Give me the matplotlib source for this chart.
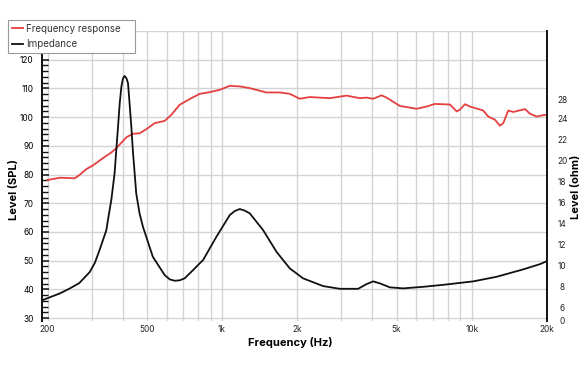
import matplotlib
matplotlib.use("Agg")
import matplotlib.pyplot as plt
from matplotlib.ticker import FixedLocator, NullFormatter, NullLocator

# ---- data ----
spl_freq = [200, 224, 257, 268, 286, 304, 333, 360, 377, 414, 439, 468, 497, 537, 589,
            626, 676, 742, 813, 892, 978, 1073, 1177, 1290, 1505, 1702, 1867, 2046, 2244,
            2700, 3150, 3560, 3788, 4026, 4352, 4557, 5150, 6010, 6590, 7115, 8172, 8692,
            8960, 9384, 9826, 11108, 11632, 12376, 12960, 13360, 13994, 14654, 16324,
            17098, 18186, 19330, 20000]
spl_db = [78.1, 78.9, 78.7, 79.8, 81.9, 83.2, 85.7, 87.7, 89.2, 93.0, 94.2, 94.4, 95.8,
          97.9, 98.7, 100.8, 104.3, 106.3, 108.1, 108.7, 109.5, 110.9, 110.7, 110.1,
          108.6, 108.6, 108.1, 106.4, 107.0, 106.6, 107.5, 106.6, 106.8, 106.4, 107.6,
          106.8, 103.9, 102.9, 103.7, 104.6, 104.4, 102.0, 102.6, 104.5, 103.7, 102.3,
          100.2, 99.1, 97.0, 97.9, 102.3, 101.8, 102.8, 101.2, 100.2, 100.7, 100.8]

imp_freq = [191, 224, 245, 268, 295, 309, 323, 344, 349, 360, 371, 383, 389, 395, 401,
            407, 414, 420, 426, 433, 439, 453, 467, 482, 528, 589, 617, 646, 676, 708,
            765, 813, 839, 949, 1073, 1124, 1177, 1232, 1290, 1459, 1651, 1867, 2110,
            2538, 2960, 3505, 3788, 4026, 4283, 4696, 5309, 6386, 7682, 10132, 12570,
            16070, 18750, 20000]
imp_ohm = [6.67, 7.31, 7.77, 8.30, 9.35, 10.21, 11.45, 13.37, 14.33, 16.24, 18.79, 23.25,
           25.49, 27.08, 27.88, 28.11, 27.88, 27.41, 25.49, 23.25, 21.02, 16.88, 14.97,
           13.68, 10.81, 9.06, 8.65, 8.52, 8.56, 8.75, 9.54, 10.18, 10.50, 12.73, 14.80,
           15.19, 15.38, 15.23, 14.97, 13.37, 11.29, 9.70, 8.75, 8.01, 7.75, 7.75, 8.20,
           8.46, 8.27, 7.89, 7.79, 7.94, 8.13, 8.46, 8.90, 9.61, 10.11, 10.40]

x_ticks = [200, 500, 1000, 2000, 5000, 10000, 20000]
x_labels = ["200", "500", "1k", "2k", "5k", "10k", "20k"]
y_ticks = [30, 40, 50, 60, 70, 80, 90, 100, 110, 120]
ohm_ticks = [4.7, 6, 8, 10, 12, 14, 16, 18, 20, 22, 24, 25.9]
ohm_labels = ["0", "6", "8", "10", "12", "14", "16", "18", "20", "22", "24", "28"]

RED = "#e5403f"
GRID = "#d4d4d4"
FONT = ["Inter", "DejaVu Sans"]
plt.rcParams["font.family"] = FONT

fig = plt.figure(figsize=(5.88, 3.72), dpi=100)
ax = fig.add_axes([42 / 588, 1 - 321 / 372, (547 - 42) / 588, (321 - 31) / 372])
ax2 = ax.twinx()

ax.set_xscale("log")
ax.set_xlim(190, 20000)
ax.set_ylim(29, 130)
ax2.set_ylim(4.67, 32.41)

# grid
minor_x = [f * m for f in (100, 1000, 10000) for m in range(1, 10)]
minor_x = [v for v in minor_x if 200 <= v <= 20000]
for v in minor_x:
    ax.axvline(v, color=GRID, lw=1.0, zorder=0)
for v in range(30, 131, 10):
    ax.axhline(v, color=GRID, lw=1.0, zorder=0)

ax.plot(spl_freq, spl_db, color=RED, lw=1.3, label="Frequency response", zorder=3)
ax2.plot(imp_freq, imp_ohm, color="#111111", lw=1.3, label="Impedance", zorder=3)

# x axis
ax.xaxis.set_major_locator(FixedLocator(x_ticks))
ax.set_xticklabels(x_labels)
ax.xaxis.set_minor_locator(NullLocator())
ax.xaxis.set_minor_formatter(NullFormatter())
ax.tick_params(axis="x", length=0, pad=3, labelsize=6, colors="#222222")

# left axis
ax.yaxis.set_major_locator(FixedLocator(y_ticks))
ax.yaxis.set_minor_locator(FixedLocator(list(range(30, 121, 2))))
ax.tick_params(axis="y", which="major", direction="in", length=5, width=1.1,
               pad=6, labelsize=6, color="#111111")
ax.tick_params(axis="y", which="minor", direction="in", length=4, width=1.0,
               color="#111111")

# right axis
ax2.yaxis.set_major_locator(FixedLocator(ohm_ticks))
ax2.set_yticklabels(ohm_labels)
ax2.yaxis.set_minor_locator(NullLocator())
ax2.tick_params(axis="y", length=0, pad=11, labelsize=6, colors="#222222")
for lab in ax2.get_yticklabels():
    lab.set_horizontalalignment("center")

for a in (ax, ax2):
    for s in ("top", "bottom"):
        a.spines[s].set_visible(False)
ax.spines["right"].set_visible(False)
ax2.spines["left"].set_visible(False)
ax.spines["left"].set_linewidth(1.4)
ax.spines["left"].set_color("#111111")
ax2.spines["right"].set_linewidth(1.4)
ax2.spines["right"].set_color("#111111")

ax.set_xlabel("Frequency (Hz)", fontsize=8, fontweight="bold")
ax.xaxis.set_label_coords((290 - 42) / 505, -(342 - 321) / 290)
ax.set_ylabel("Level (SPL)", fontsize=8, fontweight="bold")
ax.yaxis.set_label_coords((14 - 42) / 505, (321 - 190) / 290)
ax2.set_ylabel("Level (ohm)", fontsize=8, fontweight="bold")
ax2.yaxis.set_label_coords((576 - 42) / 505, (321 - 187) / 290)
ax.xaxis.label.set_va("center")
ax.yaxis.label.set_va("center")
ax2.yaxis.label.set_va("center")

h1, l1 = ax.get_legend_handles_labels()
h2, l2 = ax2.get_legend_handles_labels()
leg = fig.legend(h1 + h2, l1 + l2, loc="upper left",
                 bbox_to_anchor=(8 / 588, 1 - 53 / 372, 127 / 588, 33 / 372),
                 mode="expand", borderaxespad=0,
                 fontsize=7, frameon=True, fancybox=False, framealpha=1,
                 edgecolor="#999999", handlelength=1.1, handletextpad=0.4,
                 borderpad=0.4, labelspacing=0.55)
leg.get_frame().set_linewidth(0.8)
for t in leg.get_texts():
    t.set_color("#333333")
leg.set_zorder(10)

fig.savefig("out.png", dpi=100)
